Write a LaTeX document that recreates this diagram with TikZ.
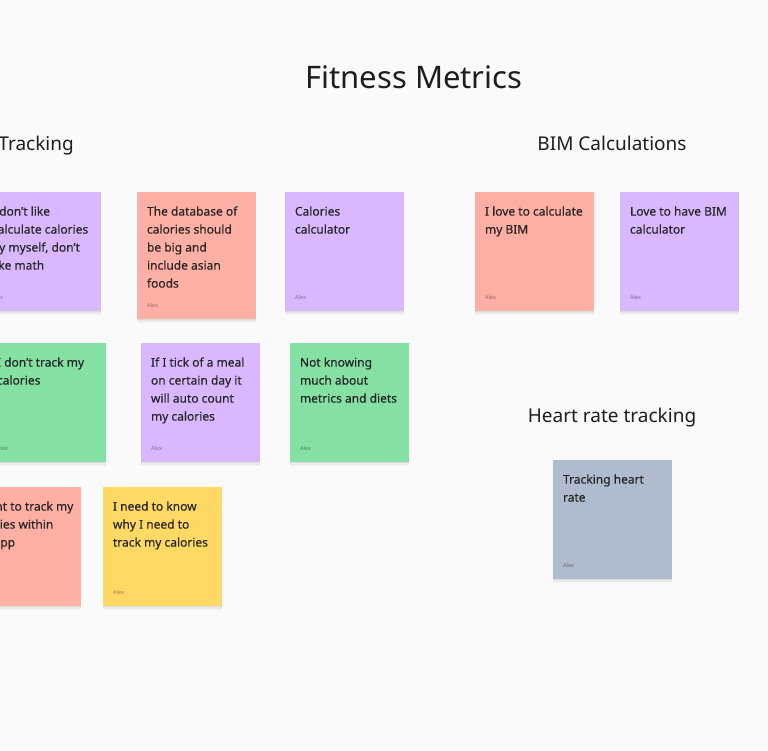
\documentclass[tikz,border=0pt]{standalone}
\usepackage{fontspec}
\setmainfont{Noto Sans}
\newfontfamily\notefont[FakeBold=0.25]{Noto Sans}
\usetikzlibrary{shadows}
\definecolor{bg}{HTML}{FAFAFA}
\definecolor{npurple}{HTML}{D9B8FF}
\definecolor{nsalmon}{HTML}{FFAFA3}
\definecolor{ngreen}{HTML}{85E0A3}
\definecolor{nyellow}{HTML}{FFD966}
\definecolor{nblue}{HTML}{AFBCCF}
\definecolor{ink}{HTML}{1E1E1E}
\definecolor{noteink}{HTML}{262626}
\newcommand{\sticky}[6]{%
  \node[note, fill=#5, minimum height=#4] (#1) at (#2,#3) {};
  \node[notetext] (#1t) at ([xshift=10pt,yshift=-11pt]#1.north west) {\strut #6};
  \node[author] (#1a) at ([xshift=10pt,yshift=12pt]#1.south west) {Alex};
}
\begin{document}
\begin{tikzpicture}[x=1pt,y=-1pt,
  note/.style={draw=none, anchor=north west, minimum width=119pt, inner sep=0pt, outer sep=0pt,
    drop shadow={shadow xshift=0pt, shadow yshift=-1pt, opacity=0.05, fill=black},
    drop shadow={shadow xshift=0pt, shadow yshift=-2.5pt, opacity=0.04, fill=black},
    drop shadow={shadow xshift=0pt, shadow yshift=-4pt, opacity=0.025, fill=black}},
  notetext/.style={anchor=north west, inner sep=0pt, outer sep=0pt, align=left, text=noteink,
    font=\notefont\fontsize{12}{18}\selectfont},
  author/.style={anchor=base west, inner sep=0pt, text=black, text opacity=0.4,
    font=\fontsize{5.5}{7}\selectfont},
  heading/.style={inner sep=0pt, text=ink, font=\fontsize{19}{23}\selectfont},
  title/.style={inner sep=0pt, text=ink, font=\fontsize{31}{37}\selectfont}]
\useasboundingbox (0,0) rectangle (768,750);
\fill[bg] (0,0) rectangle (768,750);
\clip (0,0) rectangle (768,750);

\node[title, anchor=base] (title) at (414,88) {Fitness Metrics};
\node[heading, anchor=base east] (h1) at (74,150) {Calories Tracking};
\node[heading, anchor=base] (h2) at (612,150) {BIM Calculations};
\node[heading, anchor=base] (h3) at (612,422) {Heart rate tracking};

\sticky{A}{-18}{192}{119pt}{npurple}{I don’t like\\calculate calories\\by myself, don’t\\like math}
\sticky{B}{137}{192}{127pt}{nsalmon}{The database of\\calories should\\be big and\\include asian\\foods}
\sticky{C}{285}{192}{119pt}{npurple}{Calories\\calculator}
\sticky{D}{475}{192}{119pt}{nsalmon}{I love to calculate\\my BIM}
\sticky{E}{620}{192}{119pt}{npurple}{Love to have BIM\\calculator}
\sticky{F}{-13}{343}{119pt}{ngreen}{I don’t track my\\calories}
\sticky{G}{141}{343}{119pt}{npurple}{If I tick of a meal\\on certain day it\\will auto count\\my calories}
\sticky{H}{290}{343}{119pt}{ngreen}{Not knowing\\much about\\metrics and diets}
\sticky{I}{-38}{487}{119pt}{nsalmon}{I want to track my\\calories within\\the app}
\sticky{J}{103}{487}{119pt}{nyellow}{I need to know\\why I need to\\track my calories}
\sticky{K}{553}{460}{119pt}{nblue}{Tracking heart\\rate}
\end{tikzpicture}
\end{document}
